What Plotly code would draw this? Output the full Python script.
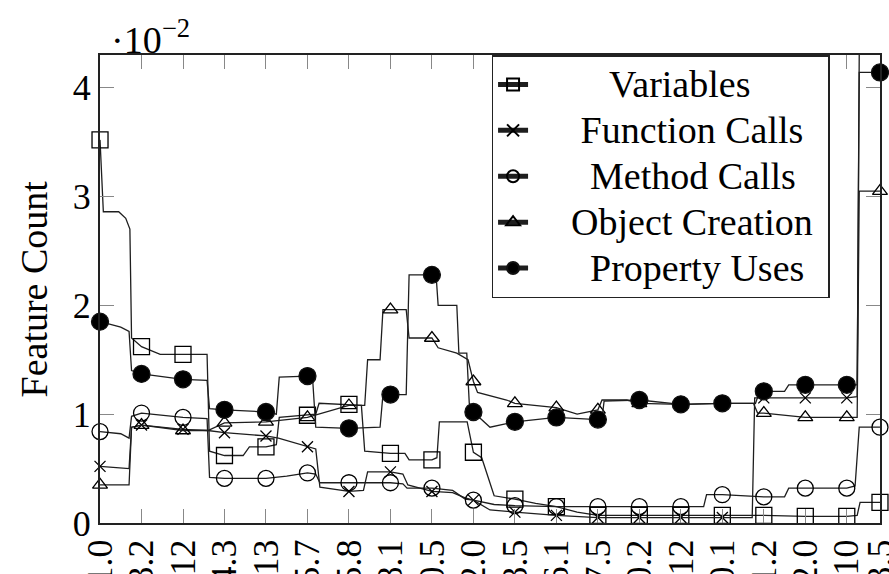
import plotly.graph_objects as go

# tick positions and labels (x axis, rotated, cut off at bottom in original)
tick_pos = [0, 1, 2, 3, 4, 5, 6, 7, 8, 9, 10, 11, 12, 13, 14, 15, 16, 17, 18, 18.8]
tick_labels = ["-1.0", "13.2", "112", "14.3", "113", "15.7", "15.8", "18.1", "20.5", "22.0",
               "23.5", "26.1", "27.5", "30.2", "112", "40.1", "41.2", "42.0", "110", "53.5"]

# Variables (squares)
var_x = [0, 0.08, 0.45, 0.62, 0.72, 0.76, 1, 1.45, 2, 2.58, 2.64, 3, 3.45, 3.6, 4, 4.25, 4.32, 5, 5.2, 5.28, 6, 6.3,
         6.38, 7, 7.35, 7.45, 8, 8.12, 8.18, 8.85, 9, 9.2, 9.5, 10, 10.5, 11, 11.5, 12, 13, 14, 15, 16, 17, 18, 18.25,
         18.32, 18.8]
var_y = [3.52, 2.86, 2.86, 2.8, 2.7, 1.7, 1.62, 1.55, 1.55, 1.55, 0.66, 0.62, 0.62, 0.70, 0.70, 0.72, 0.97, 0.99, 1.0,
         1.1, 1.09, 1.08, 0.66, 0.64, 0.64, 0.58, 0.58, 0.6, 0.93, 0.93, 0.65, 0.6, 0.25, 0.22, 0.18, 0.15, 0.1, 0.07,
         0.07, 0.07, 0.07, 0.07, 0.06, 0.06, 0.07, 0.19, 0.19]

# Function Calls (x)
fc_x = [0, 0.7, 0.76, 1, 2, 2.6, 3, 4, 4.3, 5, 5.2, 5.3, 6, 6.35, 6.45, 7, 7.3, 7.42, 8, 8.5, 8.8, 9, 9.4, 10, 11, 12,
        13, 14, 15, 15.72, 15.78, 16, 17, 18, 18.25, 18.3, 18.8]
fc_y = [0.52, 0.50, 0.88, 0.90, 0.86, 0.85, 0.83, 0.80, 0.78, 0.70, 0.68, 0.33, 0.29, 0.3, 0.47, 0.47, 0.45, 0.35, 0.29,
        0.28, 0.23, 0.21, 0.12, 0.10, 0.07, 0.05, 0.05, 0.05, 0.05, 0.05, 1.15, 1.15, 1.15, 1.15, 1.16, 4.32, 4.32]

# Method Calls (open circles)
mc_x = [0, 0.5, 0.7, 0.76, 1, 2, 2.58, 2.64, 3, 4, 4.5, 5, 5.2, 5.3, 6, 7, 7.3, 7.4, 8, 8.5, 8.8, 9, 9.5, 10, 11, 12, 13,
        14, 14.55, 14.62, 15, 16, 16.5, 16.6, 17, 18, 18.2, 18.3, 18.8]
mc_y = [0.84, 0.82, 0.78, 0.98, 1.01, 0.97, 0.96, 0.42, 0.41, 0.41, 0.43, 0.46, 0.45, 0.37, 0.37, 0.37, 0.36, 0.32, 0.32,
        0.3, 0.22, 0.21, 0.17, 0.16, 0.15, 0.15, 0.15, 0.15, 0.15, 0.26, 0.26, 0.24, 0.24, 0.32, 0.32, 0.32, 0.34, 0.88,
        0.88]

# Object Creation (triangles)
oc_x = [0, 0.7, 0.76, 1, 2, 2.6, 3, 4, 5, 6, 6.38, 6.45, 6.75, 6.82, 7, 7.38, 7.45, 8, 8.15, 8.6, 8.87, 9, 9.1, 9.8,
        10, 11, 11.5, 12, 12.1, 12.7, 13, 14, 15, 15.75, 15.85, 16, 17, 18, 18.25, 18.3, 18.8]
oc_y = [0.35, 0.35, 0.88, 0.90, 0.85, 0.85, 0.92, 0.93, 0.97, 1.08, 1.08, 1.5, 1.5, 1.96, 1.96, 1.96, 1.70, 1.70, 1.61,
        1.56, 1.50, 1.30, 1.2, 1.13, 1.10, 1.06, 1.0, 1.04, 1.13, 1.13, 1.10, 1.09, 1.10, 1.1, 1.01, 1.01, 0.97, 0.97,
        0.97, 3.05, 3.05]

# Property Uses (filled circles)
pu_x = [0, 0.5, 0.7, 0.76, 1, 2, 2.58, 2.64, 3, 4, 4.25, 4.32, 5, 5.12, 5.2, 6, 6.75, 6.82, 7, 7.38, 7.45, 8, 8.1, 8.15,
        8.6, 8.65, 8.84, 8.9, 9, 9.4, 10, 11, 12, 12.1, 12.15, 13, 14, 15, 15.8, 15.9, 16, 16.5, 16.6, 17, 18, 18.25,
        18.3, 18.8]
pu_y = [1.85, 1.8, 1.76, 1.4, 1.37, 1.32, 1.31, 1.05, 1.04, 1.02, 1.0, 1.34, 1.35, 1.35, 0.88, 0.87, 0.88, 1.18, 1.18,
        1.18, 2.28, 2.28, 2.28, 2.0, 2.0, 1.56, 1.56, 1.1, 1.02, 0.88, 0.93, 0.97, 0.95, 0.96, 1.12, 1.13, 1.09, 1.10,
        1.10, 1.21, 1.21, 1.21, 1.27, 1.27, 1.27, 1.27, 4.14, 4.14]

NB = "\u00a0"
series = [
    ("Variables", 8, var_x, var_y, "square-open", 16),
    ("Function Calls", 5, fc_x, fc_y, "x-thin-open", 11),
    ("Method Calls", 6, mc_x, mc_y, "circle-open", 16),
    ("Object Creation", 4, oc_x, oc_y, "triangle-up-open", 13),
    ("Property Uses", 6, pu_x, pu_y, "circle", 17),
]

fig = go.Figure()
for name, pad, xs, ys, sym, sz in series:
    sizes = [sz if x in tick_pos else 0 for x in xs]
    label = '<span style="font-size:38px">' + NB * pad + name + NB + '</span>'
    fig.add_trace(go.Scatter(
        x=xs, y=ys, name=label, mode="lines+markers",
        line=dict(color="#1e1e1e", width=1.3),
        marker=dict(symbol=sym, size=sizes, color="#000000", opacity=1,
                    line=dict(color="#111111", width=1.3)),
        cliponaxis=False, legendgroup=name,
    ))

FONT = "Liberation Serif, Times New Roman, serif"
fig.update_layout(
    width=889, height=574,
    margin=dict(l=100, r=9, t=55, b=51, autoexpand=False),
    paper_bgcolor="white", plot_bgcolor="white",
    font=dict(family=FONT, size=36, color="black"),
    showlegend=True,
    legend=dict(x=0.502, y=1.0, xanchor="left", yanchor="top",
                bordercolor="#222", borderwidth=1.5, bgcolor="white",
                font=dict(family=FONT, size=33, color="black"),
                itemsizing="constant", tracegroupgap=0),
    xaxis=dict(range=[-0.0005, 18.8005], tickvals=tick_pos, ticktext=tick_labels, tickangle=-90,
               automargin=False, ticklabeloverflow="allow",
               showline=True, linecolor="#222", linewidth=2, mirror="allticks",
               ticks="inside", ticklen=14, tickcolor="#888", tickwidth=1.2,
               showgrid=False, zeroline=False, tickfont=dict(size=36)),
    yaxis=dict(range=[0, 4.3], tickvals=[0, 1, 2, 3, 4], ticktext=["0", "1", "2", "3", "4"],
               automargin=False,
               showline=True, linecolor="#222", linewidth=2, mirror="allticks",
               ticks="inside", ticklen=14, tickcolor="#888", tickwidth=1.2,
               showgrid=False, zeroline=False, tickfont=dict(size=36)),
    annotations=[
        dict(text="Feature Count", textangle=-90, xref="paper", yref="paper",
             x=-0.084, y=0.5, xanchor="center", yanchor="middle", showarrow=False,
             font=dict(family=FONT, size=38)),
        dict(text="·10<sup>−2</sup>", xref="paper", yref="paper",
             x=0.011, y=1.038, xanchor="left", yanchor="middle", showarrow=False,
             font=dict(family=FONT, size=38)),
    ],
)

fig.write_html("out.html")
